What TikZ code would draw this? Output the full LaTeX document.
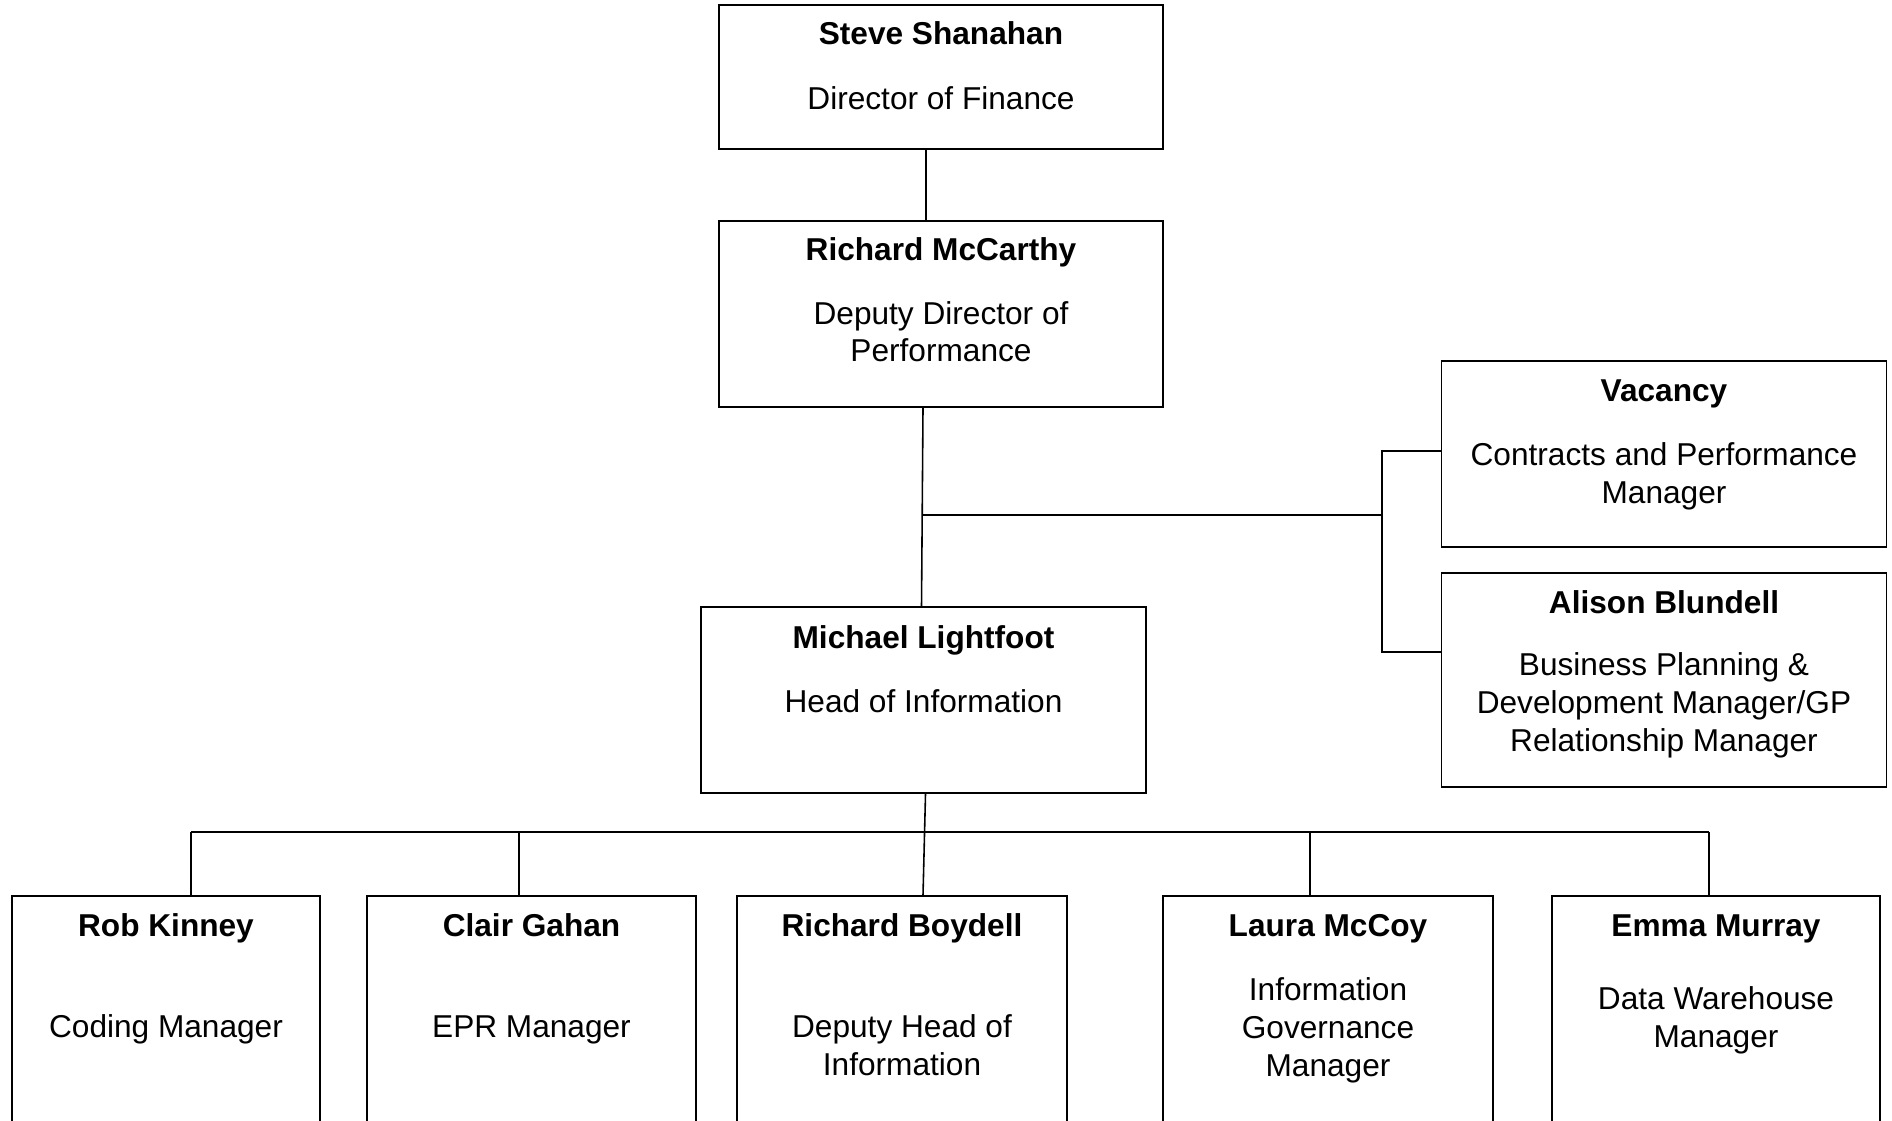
\documentclass[tikz,border=0pt]{standalone}
\usepackage{fontspec}
\setmainfont{Liberation Sans}
\def\pxu{0.02cm}
\begin{document}
\begin{tikzpicture}[x=0.02cm,y=-0.02cm,
  every node/.style={font=\fontsize{18}{21.6}\selectfont},
  box/.style 2 args={draw,line width=1.1pt,minimum width=#1*\pxu,minimum height=#2*\pxu,inner sep=0pt},
  nm/.style={anchor=base,font=\fontsize{18}{21.6}\selectfont\bfseries},
  ttl/.style={anchor=base,align=center},
  link/.style={line width=0.9pt}]
\useasboundingbox (0,0) rectangle (1892,1121);
\clip (0,0) rectangle (1892,1121);
% top of the tree
\node[box={444}{144}] (fin) at (941,77) {};
\node[nm] (finN) at (941,45) {Steve Shanahan};
\node[ttl] (finT) at (941,110) {Director of Finance};
\node[box={444}{186}] (ddp) at (941,314) {};
\node[nm] (ddpN) at (941,261) {Richard McCarthy};
\node[ttl] (ddpT) at (941,362) {Deputy Director of\\Performance};
\node[box={445}{186}] (hoi) at (923.5,700) {};
\node[nm] (hoiN) at (923.5,648) {Michael Lightfoot};
\node[ttl] (hoiT) at (923.5,712) {Head of Information};
% side posts
\node[box={445}{186}] (cpm) at (1664,454) {};
\node[nm] (cpmN) at (1664,402) {Vacancy};
\node[ttl] (cpmT) at (1664,503) {Contracts and Performance\\Manager};
\node[box={445}{214}] (bpm) at (1664,680) {};
\node[nm] (bpmN) at (1664,613) {Alison Blundell};
\node[ttl] (bpmT) at (1664,751) {Business Planning \&\\Development Manager/GP\\Relationship Manager};
% bottom row
\node[box={308}{330}] (cod) at (166,1061) {};
\node[nm] (codN) at (166,936) {Rob Kinney};
\node[ttl] (codT) at (166,1037) {Coding Manager};
\node[box={329}{330}] (epr) at (531.5,1061) {};
\node[nm] (eprN) at (531.5,936) {Clair Gahan};
\node[ttl] (eprT) at (531.5,1037) {EPR Manager};
\node[box={330}{330}] (dhi) at (902,1061) {};
\node[nm] (dhiN) at (902,936) {Richard Boydell};
\node[ttl] (dhiT) at (902,1075) {Deputy Head of\\Information};
\node[box={330}{330}] (igm) at (1328,1061) {};
\node[nm] (igmN) at (1328,936) {Laura McCoy};
\node[ttl] (igmT) at (1328,1076) {Information\\Governance\\Manager};
\node[box={328}{330}] (dwm) at (1716,1061) {};
\node[nm] (dwmN) at (1716,936) {Emma Murray};
\node[ttl] (dwmT) at (1716,1047) {Data Warehouse\\Manager};
% connectors
\draw[link] ([xshift=-15*\pxu]fin.south) -- ([xshift=-15*\pxu]ddp.north);
\draw[link] ([xshift=-18*\pxu]ddp.south) -- ([xshift=-2*\pxu]hoi.north);
\coordinate (tee) at (922,515);
\coordinate (br) at (1382,515);
\draw[link] (tee) -- (br);
\draw[link] ([yshift=3*\pxu]cpm.west) -| (br) |- ([yshift=28*\pxu]bpm.west);
\draw[link] ([xshift=2*\pxu]hoi.south) -- ([xshift=21*\pxu]dhi.north);
\coordinate (j1) at (191,832);
\coordinate (j2) at (519,832);
\coordinate (j4) at (1310,832);
\coordinate (j5) at (1709,832);
\draw[link] (j1) -- (j5);
\foreach \j/\b in {j1/cod,j2/epr,j4/igm,j5/dwm}
  \draw[link] (\j) -- (\j |- \b.north);
\end{tikzpicture}
\end{document}
